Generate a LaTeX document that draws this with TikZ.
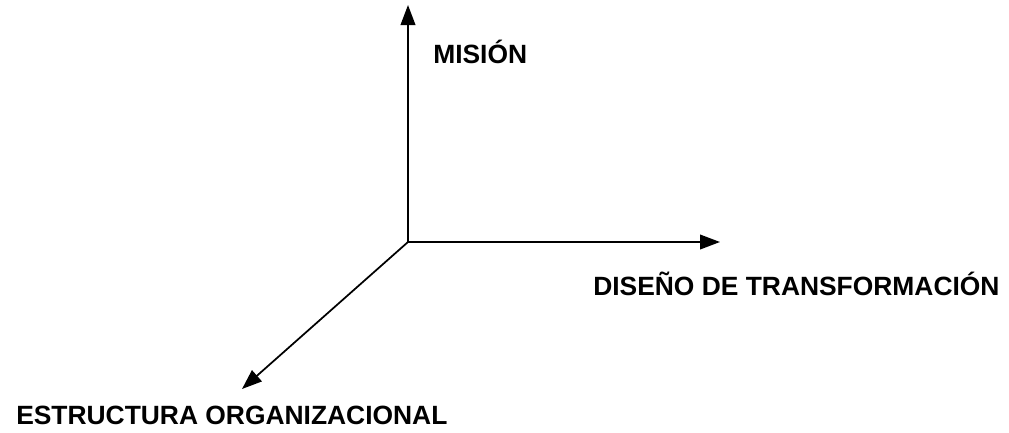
\documentclass[tikz,border=0pt]{standalone}
\usepackage{fontspec}
\setmainfont{Liberation Sans}
\usetikzlibrary{arrows.meta,positioning}

\begin{document}
\begin{tikzpicture}[
    x=0.75pt, y=-0.75pt,
    axis/.style={-{Triangle[length=15pt, width=11pt]}, line width=1.3pt, black},
    label/.style={inner sep=0pt, anchor=base west, font=\fontsize{19.8}{24}\selectfont\bfseries}
]
\useasboundingbox (0,0) rectangle (1009,432);

% Axes
\coordinate (origin) at (408,242);
\coordinate (top) at (408,5);
\coordinate (right) at (720,242);
\coordinate (down) at (242,389);

\draw[axis] (origin) -- (top);
\draw[axis] (origin) -- (right);
\draw[axis] (origin) -- (down);

% Labels
\node[label] (mision) at (433,63) {MISIÓN};
\node[label] (diseno) at (593,295) {DISEÑO DE TRANSFORMACIÓN};
\node[label] (estructura) at (16,424) {ESTRUCTURA ORGANIZACIONAL};

\end{tikzpicture}
\end{document}
